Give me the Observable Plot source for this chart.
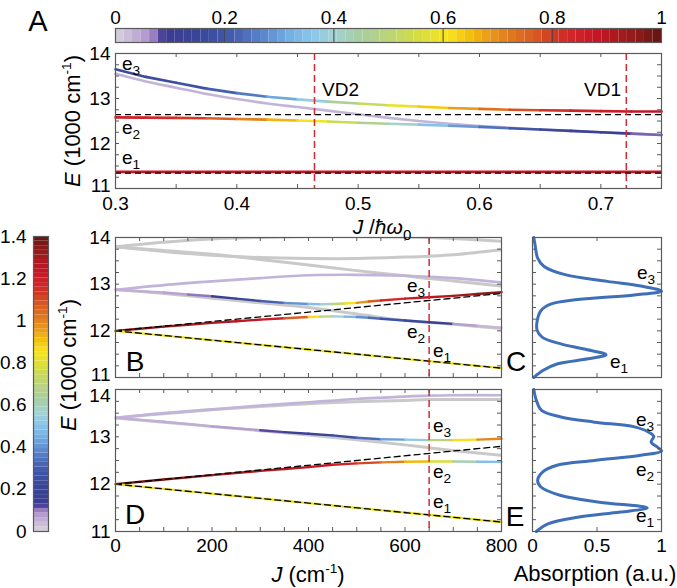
<!DOCTYPE html>
<html><head><meta charset="utf-8">
<script src="https://cdn.jsdelivr.net/npm/d3@7"></script>
<script src="https://cdn.jsdelivr.net/npm/@observablehq/plot@0.6"></script>
<style>
body{margin:0;background:#fff;}
#fig{position:relative;width:677px;height:588px;overflow:hidden;background:#fff;font-family:"Liberation Sans",Arial,Helvetica,sans-serif;color:#000}
.lbl{position:absolute;white-space:nowrap;line-height:1}
.sb{font-size:0.72em;vertical-align:-0.38em}
.sp{font-size:0.62em;vertical-align:0.62em}
</style></head><body><div id="fig"></div>
<script>
// ---------- colormap (value fraction -> colour) ----------
const cmapStops  = [0,0.02,0.035,0.055,0.07,0.08,0.095,0.15,0.2,0.23,0.27,0.32,0.36,0.4,0.45,0.5,0.55,0.58,0.61,0.64,0.68,0.72,0.77,0.8,0.84,0.88,0.92,0.96,1];
const cmapColors = ["#d6d2da","#cdbfd8","#c3b0d5","#b59ccf","#9a7fc0","#5a47a0","#3b3c91","#3a4598","#3f55a8","#4a66b6","#5a86cc","#74b0e4","#8ac6ea","#a3d2d4","#a8cea0","#bcd47a","#d2dc44","#e6e030","#f8e420","#f4c80c","#eca018","#e07c20","#d85822","#d23a22","#d0242a","#c81626","#a81a1e","#8a1a1a","#641410"];
const nSteps = 64;

// ---------- tick arrays ----------
const cbA_labels = [0,0.2,0.4,0.6,0.8,1];
const cbA_lines  = [0.2,0.4,0.6,0.8];
const cbL_labels = [0,0.2,0.4,0.6,0.8,1,1.2,1.4];
const A_xlabels = [0.3,0.4,0.5,0.6,0.7];
const A_xminor  = [0.3,0.35,0.4,0.45,0.5,0.55,0.6,0.65,0.7,0.75];
const E_labels  = [11,12,13,14];
const E_labels_lo = [11,12,13];
const E_labels_top = [14];
const E_labels_hi = [12,13,14];
const E_labels_bot = [11];
const E_minor   = [11,11.25,11.5,11.75,12,12.25,12.5,12.75,13,13.25,13.5,13.75,14];
const J_labels  = [0,200,400,600,800];
const J_minor   = [0,50,100,150,200,250,300,350,400,450,500,550,600,650,700,750,800];
const Abs_labels = [0,0.5,1];

// ---------- Panel A data (J / hbar w0, E in 1000 cm-1, weight 0..1) ----------
const JA = [0.30,0.325,0.35,0.375,0.40,0.425,0.45,0.475,0.50,0.525,0.55,0.575,0.60,0.625,0.65,0.675,0.70,0.725,0.75];
const A_e3_E = [13.65,13.48,13.35,13.22,13.12,13.04,12.98,12.93,12.89,12.85,12.82,12.79,12.77,12.75,12.74,12.73,12.72,12.71,12.71];
const A_e3_W = [0.16,0.17,0.18,0.2,0.23,0.28,0.34,0.42,0.5,0.56,0.61,0.66,0.71,0.76,0.8,0.84,0.86,0.88,0.9];
const A_e2_E = [12.58,12.575,12.57,12.56,12.545,12.53,12.51,12.49,12.46,12.44,12.42,12.395,12.37,12.34,12.31,12.28,12.25,12.22,12.19];
const A_e2_W = [0.86,0.84,0.82,0.78,0.74,0.69,0.63,0.57,0.5,0.44,0.38,0.32,0.27,0.22,0.18,0.15,0.13,0.1,0.05];
const A_dark_E = [13.55,13.38,13.24,13.10,12.99,12.89,12.81,12.73,12.65,12.57,12.50,12.44,12.39,12.35,12.31,12.28,12.25,12.22,12.19];
const A_e1_J = [0.30,0.75];
const A_e1_E = [11.37,11.37];
const A_e1_W = [0.88,0.88];
const A_dash = [11.34,12.64];
const A_VD = [0.464,0.721];

// ---------- Panels B / D data (J in cm-1, E in 1000 cm-1, weight 0..1.4) ----------
const JB = [0,50,100,150,200,250,300,350,400,425,450,475,500,525,550,600,650,700,750,800];
const B_e3_E = [12.88,12.85,12.82,12.78,12.74,12.69,12.64,12.60,12.575,12.57,12.575,12.585,12.60,12.63,12.65,12.69,12.72,12.75,12.79,12.83];
const B_e3_W = [0.05,0.05,0.06,0.08,0.12,0.2,0.26,0.35,0.45,0.52,0.62,0.8,0.92,1.02,1.12,1.2,1.24,1.28,1.32,1.36];
const B_e2_E = [12.0,12.045,12.09,12.13,12.17,12.205,12.24,12.27,12.295,12.305,12.31,12.305,12.295,12.28,12.26,12.22,12.185,12.15,12.11,12.065];
const B_e2_W = [1.38,1.35,1.33,1.3,1.28,1.26,1.24,1.18,0.95,0.78,0.6,0.5,0.43,0.36,0.3,0.25,0.2,0.1,0.05,0.03];
const J_e1 = [0,200,400,600,800];
const e1_E = [12.0,11.8,11.6,11.4,11.2];
const e1_W = [0.82,0.82,0.82,0.82,0.82];
const J_dash = [0,800];
const dashUp = [12.0,12.8];
const dashLo = [12.0,11.2];
const VD_J = [650];
const JG = [0,100,200,300,400,500,600,650,700,800];
const B_GD = [12.88,12.80,12.70,12.60,12.50,12.36,12.22,12.18,12.14,12.05];
const B_G1 = [12.88,12.98,13.06,13.13,13.19,13.20,13.18,13.16,13.13,13.04];
const B_U1 = [13.80,13.90,13.97,14.0,14.02,14.02,14.01,14.0,13.98,13.92];
const B_U2 = [13.80,13.70,13.62,13.57,13.55,13.55,13.58,13.60,13.63,13.74];
const B_U3 = [13.80,13.72,13.64,13.53,13.41,13.29,13.18,13.12,13.07,12.96];

const JD = [0,100,200,300,350,400,450,500,550,600,650,700,750,800];
const D_e3_E = [13.40,13.32,13.22,13.14,13.10,13.065,13.03,12.98,12.95,12.94,12.93,12.93,12.94,12.96];
const D_e3_W = [0.05,0.05,0.06,0.09,0.14,0.2,0.22,0.28,0.38,0.46,0.58,0.8,0.93,1.05];
const D_e2_E = [12.0,12.10,12.19,12.28,12.32,12.36,12.41,12.44,12.46,12.475,12.48,12.48,12.475,12.47];
const D_e2_W = [1.4,1.36,1.32,1.28,1.27,1.25,1.22,1.15,1.05,0.95,0.88,0.7,0.52,0.45];
const D_U1 = [13.40,13.50,13.58,13.66,13.73,13.80,13.85,13.87,13.88,13.88];
const D_U2 = [13.40,13.49,13.57,13.64,13.70,13.74,13.77,13.79,13.79,13.79];
const D_G  = [13.40,13.31,13.22,13.13,13.04,12.94,12.83,12.77,12.71,12.61];

// ---------- Panels C / E absorption ----------
const C_E = [14.0,13.84,13.56,13.38,13.21,13.06,12.96,12.85,12.77,12.67,12.57,12.43,12.21,12.01,11.86,11.72,11.61,11.49,11.40,11.29,11.15,11.0];
const C_A = [0.01,0.02,0.04,0.09,0.245,0.58,0.84,1.0,0.79,0.35,0.14,0.065,0.036,0.036,0.077,0.22,0.40,0.57,0.43,0.19,0.08,0.01];
const E_E = [14.0,13.77,13.56,13.42,13.31,13.21,13.10,13.01,12.89,12.78,12.70,12.61,12.50,12.40,12.26,12.08,11.94,11.76,11.62,11.50,11.41,11.30,11.16,11.0];
const E_A = [0.01,0.03,0.07,0.22,0.48,0.79,0.90,0.94,0.92,0.97,1.0,0.84,0.48,0.19,0.08,0.04,0.065,0.22,0.52,0.89,0.68,0.35,0.12,0.03];

// ---------- helpers ----------
const fig = document.getElementById("fig");
const W = 677, H = 588;
const FONT = '"Liberation Sans", Arial, Helvetica, sans-serif';
const AX = "#5a5a5a";
const GRAY = "#c9c9c9", LAV = "#c2b4d8";
const DASHRED = "#d42a33";
const TICKFONT = "19px";

function colorScale(max) {
  return {type: "linear", domain: cmapStops.map(s => s * max), range: cmapColors, interpolate: "rgb"};
}
function segs(J, E, Wt) {
  const out = [];
  for (let i = 0; i < J.length - 1; i++) out.push({x1: J[i], y1: E[i], x2: J[i+1], y2: E[i+1], w: (Wt[i] + Wt[i+1]) / 2});
  return out;
}
function rows(J, E, id) { return J.map((j, i) => ({J: j, E: E[i], id})); }
function innerTicks(xt, yt, pw, ph, len = 4) {
  const m = [];
  if (xt) m.push(
    Plot.tickX(xt, {x: d => d, stroke: AX, insetTop: ph - len}),
    Plot.tickX(xt, {x: d => d, stroke: AX, insetBottom: ph - len}));
  if (yt) m.push(
    Plot.tickY(yt, {y: d => d, stroke: AX, insetLeft: pw - len}),
    Plot.tickY(yt, {y: d => d, stroke: AX, insetRight: pw - len}));
  return m;
}
function mk(fr, opts) {
  const svg = Plot.plot({
    width: W, height: H,
    marginLeft: fr.l, marginTop: fr.t, marginRight: W - fr.r, marginBottom: H - fr.b,
    x: {label: null, ...opts.x}, y: {label: null, ...opts.y},
    color: opts.color,
    style: {background: "transparent", fontFamily: FONT, fontSize: TICKFONT, color: "#000", overflow: "visible"},
    marks: opts.marks
  });
  svg.style.position = "absolute"; svg.style.left = "0px"; svg.style.top = "0px";
  fig.append(svg);
}
function label(html, x, y, size, o = {}) {
  const d = document.createElement("div");
  d.className = "lbl"; d.innerHTML = html;
  d.style.left = x + "px"; d.style.top = y + "px"; d.style.fontSize = size + "px";
  if (o.style) Object.assign(d.style, o.style);
  d.style.transform = `translate(${o.ax ?? -50}%, -50%)` + (o.rot ? ` rotate(${o.rot}deg)` : "");
  fig.append(d);
}
const fmt = d => String(d);
const steps = d3.range(nSteps).map(i => ({a: i / nSteps, b: (i + 1) / nSteps, v: (i + 0.5) / nSteps}));

// ---------- colorbar A (top) ----------
{
  const fr = {l: 115, t: 28, r: 661, b: 42};
  mk(fr, {
    x: {domain: [0, 1]}, y: {domain: [0, 1], axis: null}, color: colorScale(1),
    marks: [
      Plot.rect(steps, {x1: "a", x2: "b", fill: "v"}),
      Plot.ruleX(cbA_lines, {stroke: "#444", strokeWidth: 1}),
      Plot.frame({stroke: AX, strokeWidth: 1.2}),
      Plot.axisX({ticks: cbA_labels, anchor: "top", tickSize: 0, tickPadding: 5, tickFormat: fmt})
    ]
  });
}
// ---------- colorbar left ----------
{
  const fr = {l: 33, t: 236, r: 48, b: 531};
  mk(fr, {
    x: {domain: [0, 1], axis: null}, y: {domain: [0, 1.4]}, color: colorScale(1.4),
    marks: [
      Plot.rect(steps, {y1: d => d.a * 1.4, y2: d => d.b * 1.4, fill: d => d.v * 1.4}),
      Plot.frame({stroke: AX, strokeWidth: 1.2}),
      Plot.axisY({ticks: cbL_labels, anchor: "left", tickSize: 0, tickPadding: 7, tickFormat: fmt})
    ]
  });
}
// ---------- Panel A ----------
{
  const fr = {l: 115, t: 53, r: 661, b: 188};
  mk(fr, {
    x: {domain: [0.3, 0.75]}, y: {domain: [11, 14]}, color: colorScale(1),
    marks: [
      Plot.line(rows(JA, A_dark_E, "d"), {x: "J", y: "E", stroke: LAV, strokeWidth: 2.6, curve: "catmull-rom"}),
      Plot.link(segs(JA, A_e2_E, A_e2_W), {x1: "x1", y1: "y1", x2: "x2", y2: "y2", stroke: "w", strokeWidth: 2.6, strokeLinecap: "round"}),
      Plot.link(segs(JA, A_e3_E, A_e3_W), {x1: "x1", y1: "y1", x2: "x2", y2: "y2", stroke: "w", strokeWidth: 2.6, strokeLinecap: "round"}),
      Plot.link(segs(A_e1_J, A_e1_E, A_e1_W), {x1: "x1", y1: "y1", x2: "x2", y2: "y2", stroke: "w", strokeWidth: 2.6}),
      Plot.ruleY(A_dash, {stroke: "#000", strokeWidth: 1.3, strokeDasharray: "6,4"}),
      Plot.ruleX(A_VD, {stroke: DASHRED, strokeWidth: 1.5, strokeDasharray: "7,4"}),
      ...innerTicks(A_xminor, E_minor, fr.r - fr.l, fr.b - fr.t),
      Plot.frame({stroke: AX, strokeWidth: 1.2}),
      Plot.axisX({ticks: A_xlabels, anchor: "bottom", tickSize: 0, tickPadding: 8, tickFormat: fmt}),
      Plot.axisY({ticks: E_labels_hi, anchor: "left", tickSize: 0, tickPadding: 5, tickFormat: fmt}),
      Plot.axisY({ticks: E_labels_bot, anchor: "left", tickSize: 0, tickPadding: 5, tickFormat: fmt, dy: -3})
    ]
  });
}
// ---------- Panels B and D ----------
function panelBD(fr, grayLines, lavLines, e3, e2, showX) {
  const yAxes = showX
    ? [Plot.axisY({ticks: E_labels_lo, anchor: "left", tickSize: 0, tickPadding: 5, tickFormat: fmt}),
       Plot.axisY({ticks: E_labels_top, anchor: "left", tickSize: 0, tickPadding: 5, tickFormat: fmt, dy: 6})]
    : [Plot.axisY({ticks: E_labels_hi, anchor: "left", tickSize: 0, tickPadding: 5, tickFormat: fmt}),
       Plot.axisY({ticks: E_labels_bot, anchor: "left", tickSize: 0, tickPadding: 5, tickFormat: fmt, dy: -3})];
  mk(fr, {
    x: {domain: [0, 800], ...(showX ? {} : {axis: null})}, y: {domain: [11, 14]}, color: colorScale(1.4),
    marks: [
      Plot.line(grayLines.flat(), {x: "J", y: "E", z: "id", stroke: GRAY, strokeWidth: 3, curve: "catmull-rom", clip: true}),
      Plot.line(lavLines.flat(), {x: "J", y: "E", z: "id", stroke: LAV, strokeWidth: 2.6, curve: "catmull-rom", clip: true}),
      Plot.link(segs(e3[0], e3[1], e3[2]), {x1: "x1", y1: "y1", x2: "x2", y2: "y2", stroke: "w", strokeWidth: 2.4, strokeLinecap: "round"}),
      Plot.link(segs(e2[0], e2[1], e2[2]), {x1: "x1", y1: "y1", x2: "x2", y2: "y2", stroke: "w", strokeWidth: 2.4, strokeLinecap: "round"}),
      Plot.link(segs(J_e1, e1_E, e1_W), {x1: "x1", y1: "y1", x2: "x2", y2: "y2", stroke: "w", strokeWidth: 2.4, strokeLinecap: "round"}),
      Plot.line(rows(J_dash, dashUp, "u"), {x: "J", y: "E", stroke: "#000", strokeWidth: 1.3, strokeDasharray: "6,4"}),
      Plot.line(rows(J_dash, dashLo, "l"), {x: "J", y: "E", stroke: "#000", strokeWidth: 1.3, strokeDasharray: "6,4"}),
      Plot.ruleX(VD_J, {stroke: DASHRED, strokeWidth: 1.5, strokeDasharray: "7,4"}),
      ...innerTicks(J_minor, E_minor, fr.r - fr.l, fr.b - fr.t),
      Plot.frame({stroke: AX, strokeWidth: 1.2}),
      ...(showX ? [Plot.axisX({ticks: J_labels, anchor: "bottom", tickSize: 0, tickPadding: 7, tickFormat: fmt})] : []),
      ...yAxes
    ]
  });
}
panelBD({l: 115, t: 237, r: 501, b: 377},
  [rows(JG, B_GD, "gd"), rows(JG, B_U1, "u1"), rows(JG, B_U2, "u2"), rows(JG, B_U3, "u3")],
  [rows(JG, B_G1, "g1")],
  [JB, B_e3_E, B_e3_W], [JB, B_e2_E, B_e2_W], false);
panelBD({l: 115, t: 389, r: 501, b: 531},
  [rows(JG, D_U2, "u2"), rows(JG, D_G, "g")],
  [rows(JG, D_U1, "u1")],
  [JD, D_e3_E, D_e3_W], [JD, D_e2_E, D_e2_W], true);

// ---------- Panels C and E ----------
function panelAbs(fr, Es, As, showX) {
  mk(fr, {
    x: {domain: [0, 1], ...(showX ? {} : {axis: null})}, y: {domain: [11, 14], axis: null},
    marks: [
      Plot.line(Es.map((e, i) => ({E: e, A: As[i]})), {x: "A", y: "E", stroke: "#3e6fb8", strokeWidth: 3, curve: "catmull-rom"}),
      ...innerTicks(Abs_labels, E_minor, fr.r - fr.l, fr.b - fr.t),
      Plot.frame({stroke: AX, strokeWidth: 1.2}),
      ...(showX ? [Plot.axisX({ticks: Abs_labels, anchor: "bottom", tickSize: 0, tickPadding: 7, tickFormat: fmt})] : [])
    ]
  });
}
panelAbs({l: 532, t: 237, r: 661, b: 377}, C_E, C_A, false);
panelAbs({l: 532, t: 389, r: 661, b: 531}, E_E, E_A, true);

// ---------- text annotations ----------
const e = n => `e<span class="sb">${n}</span>`;
const Eunit = `<i>E</i> (1000 cm<span class="sp">-1</span>)`;
label("A", 38, 21, 29);
label("B", 135, 362, 28);
label("C", 516, 362, 28);
label("D", 135, 515, 28);
label("E", 515, 517, 28);
label(e(3), 122, 66, 19, {ax: 0}); label(e(2), 122, 130, 19, {ax: 0}); label(e(1), 122, 160, 19, {ax: 0});
label("VD2", 322, 89, 19, {ax: 0});
label("VD1", 621, 89, 19, {ax: -100});
label(e(3), 407, 288, 19, {ax: 0}); label(e(2), 407, 334, 19, {ax: 0}); label(e(1), 433, 353, 19, {ax: 0});
label(e(3), 433, 428, 19, {ax: 0}); label(e(2), 433, 474, 19, {ax: 0}); label(e(1), 433, 504, 19, {ax: 0});
label(e(3), 637, 275, 19, {ax: 0}); label(e(1), 610, 364, 19, {ax: 0});
label(e(3), 636, 422, 19, {ax: 0}); label(e(2), 636, 472, 19, {ax: 0}); label(e(1), 636, 518, 19, {ax: 0});
label(Eunit, 72, 121, 22, {rot: -90});
label(Eunit, 68, 365, 22, {rot: -90});
label(`<i>J</i> /<i>ħω</i><span class="sb">0</span>`, 382, 229, 21);
label(`<i>J</i> (cm<span class="sp">-1</span>)`, 308, 574, 22);
label("Absorption (a.u.)", 595, 574, 22);
</script></body></html>
